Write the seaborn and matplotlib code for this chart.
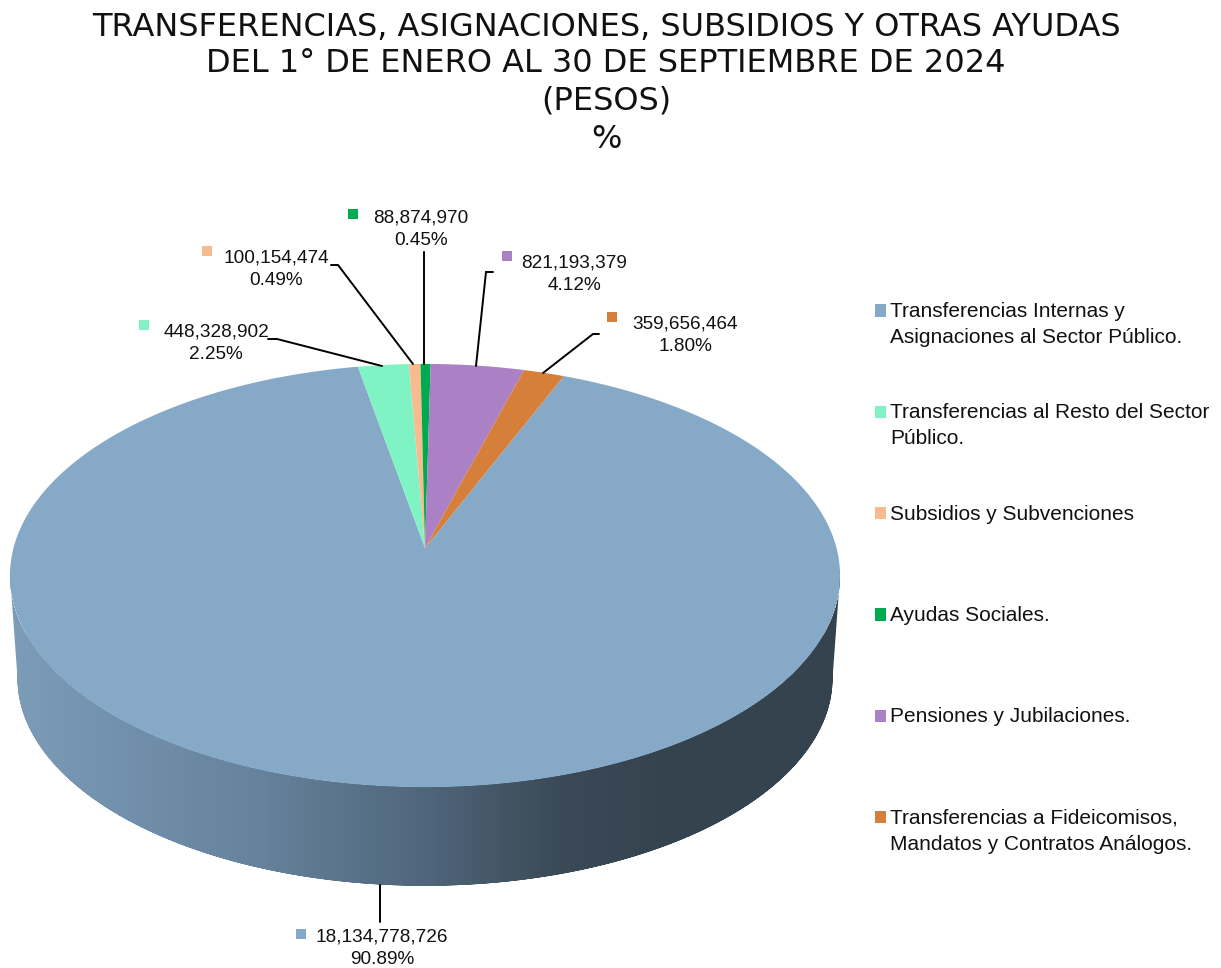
import numpy as np
import matplotlib
matplotlib.use("Agg")
import matplotlib.pyplot as plt
import seaborn as sns
from matplotlib.path import Path
from matplotlib.patches import PathPatch, Patch, Rectangle
from matplotlib.legend_handler import HandlerPatch
from matplotlib.transforms import Transform
from matplotlib.colors import LinearSegmentedColormap

# ---- data ----
categories = [
    "Transferencias Internas y\nAsignaciones al Sector Público.",
    "Transferencias al Resto del Sector\nPúblico.",
    "Subsidios y Subvenciones\n ",
    "Ayudas Sociales.\n ",
    "Pensiones y Jubilaciones.\n ",
    "Transferencias a Fideicomisos,\nMandatos y Contratos Análogos.",
]
amounts = [18134778726, 448328902, 100154474, 88874970, 821193379, 359656464]
percents = ["90.89%", "2.25%", "0.49%", "0.45%", "4.12%", "1.80%"]
palette = ["#87A9C8", "#7FF3C4", "#F9BB8E", "#00AB4F", "#AC80C4", "#D67F3A"]
title_lines = [
    "TRANSFERENCIAS, ASIGNACIONES, SUBSIDIOS Y OTRAS AYUDAS",
    "DEL 1° DE ENERO AL 30 DE SEPTIEMBRE DE 2024",
    "(PESOS)",
    "%",
]

# ---- layout (pixels of the 1221x968 canvas) ----
label_xy = [(382, 948.5), (216, 343.5), (276, 269.5), (421, 229.5), (574, 274.5), (685, 335.5)]
marker_xy = [(301, 934), (144, 325), (207, 251), (353, 214), (507, 256), (612, 317)]
leaders = [
    [(379.5, 885), (379.5, 922)],
    [(268, 339), (277, 339), (382, 366)],
    [(331, 265), (338, 265), (413, 364)],
    [(424, 252), (424, 364)],
    [(493, 272), (486, 272), (476, 366)],
    [(599, 334), (593, 334), (543, 373)],
]
CX, CY, A, B, K = 425.0, 548.0, 411.5, 208.0, 0.13
DEPTH, SHRINK = 103.0, 0.982
LEGEND_KEY_LIFT_PT = 10.1  # lifts each legend key to the first text line


class Perspective(Transform):
    """Project the unit-circle pie onto the tilted disc of the 3-D pie."""
    input_dims = output_dims = 2
    is_separable = False
    has_inverse = False

    def __init__(self, scale=1.0, dy=0.0):
        super().__init__()
        self.scale, self.dy = scale, dy

    def transform_non_affine(self, xy):
        xy = np.asarray(xy, float)
        w = 1 + K * xy[:, 1]
        return np.column_stack([CX + self.scale * A * xy[:, 0] / w,
                                CY + self.dy - self.scale * B * xy[:, 1] / w])

    def transform_path_non_affine(self, path):
        big = Path(path.vertices * 1000.0, path.codes)
        poly = big.to_polygons(closed_only=False)[0] / 1000.0
        return Path(self.transform_non_affine(poly))


def first_line_key(legend, orig_handle, xdescent, ydescent, width, height, fontsize):
    return Rectangle((-xdescent, -ydescent + LEGEND_KEY_LIFT_PT), width, height)


sns.set_theme(style="white", rc={"axes.facecolor": "white", "figure.facecolor": "white"})
plt.rcParams["font.family"] = ["Liberation Sans", "DejaVu Sans"]
colors = sns.color_palette(palette)

fig = plt.figure(figsize=(12.21, 9.68), dpi=100)
ax = fig.add_axes([0, 0, 1, 1])

wedges, _ = ax.pie(amounts, colors=colors, startangle=67.8, counterclock=False,
                   radius=1.0, center=(0, 0), frame=True,
                   wedgeprops={"linewidth": 0})
persp = Perspective()
for w in wedges:
    w.set_transform(persp + ax.transData)
    w.set_zorder(3)
    w.set_clip_on(False)

ax.set_aspect("auto")

# side wall: region between top rim and the lower rim, shaded horizontally
t = np.linspace(0, 2 * np.pi, 720)
circle = np.column_stack([np.cos(t), np.sin(t)])
top = Perspective().transform_non_affine(circle)
low = Perspective(SHRINK, DEPTH).transform_non_affine(circle)
i_l, i_r = top[:, 0].argmin(), top[:, 0].argmax()
order = np.r_[i_l:720, 0:i_r + 1]
outline = np.vstack([top[order], low[order][::-1]])
wall_cmap = LinearSegmentedColormap.from_list("wall", [
    (0.00, "#7C9CB8"), (0.30, "#66829C"), (0.50, "#50667B"),
    (0.66, "#3B4A57"), (0.80, "#35434F"), (1.00, "#35434F")])
img = ax.imshow(np.linspace(0, 1, 400)[None, :], cmap=wall_cmap, aspect="auto",
                extent=(10, 840, 900, 570), zorder=1, interpolation="bilinear")
clip = PathPatch(Path(outline), transform=ax.transData, facecolor="none", edgecolor="none")
ax.add_patch(clip)
img.set_clip_path(clip)

# leader lines, square keys, value labels
for pts in leaders:
    xs, ys = zip(*pts)
    ax.plot(xs, ys, color="black", lw=1.4, zorder=4, solid_joinstyle="miter")
for (mx, my), c in zip(marker_xy, colors):
    ax.scatter([mx], [my], marker="s", s=50, color=c, linewidths=0, zorder=5)
for (lx, ly), amt, pct in zip(label_xy, amounts, percents):
    ax.text(lx, ly, f"{amt:,}\n{pct}", ha="center", va="center", fontsize=13.7,
            color="#111111", linespacing=1.46, zorder=5)

ax.set_xlim(0, 1221)
ax.set_ylim(968, 0)
ax.axis("off")

# legend
handles = [Patch(facecolor=c, edgecolor="none") for c in colors]
leg = ax.legend(handles, categories, loc="upper left", bbox_to_anchor=(875, 302),
                bbox_transform=ax.transData, frameon=False, fontsize=15,
                handlelength=0.53, handleheight=0.53, handletextpad=0.19,
                labelspacing=2.7, borderpad=0, borderaxespad=0, labelcolor="#111111",
                handler_map={Patch: HandlerPatch(patch_func=first_line_key)})
for txt in leg.get_texts():
    txt.set_linespacing(1.47)

# title
for y, line in zip([28, 64, 101, 139], title_lines):
    ax.text(606, y, line, ha="center", va="center", fontsize=23,
            family="DejaVu Sans", color="#111111")

fig.savefig("out.png", dpi=100)
